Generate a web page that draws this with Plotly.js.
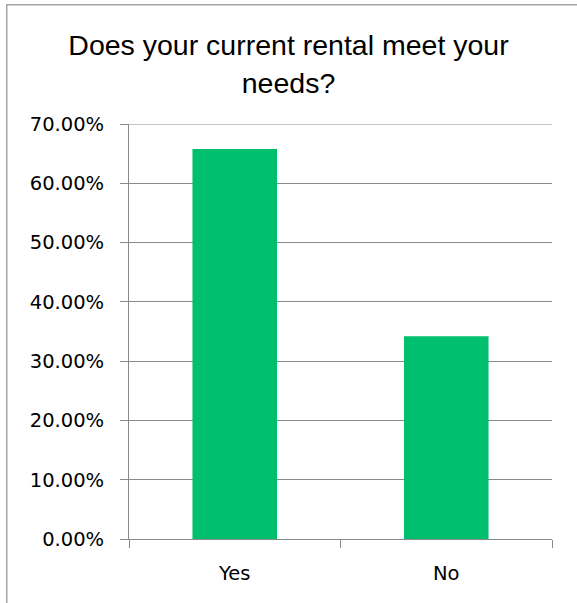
<!DOCTYPE html>
<html>
<head>
<meta charset="utf-8">
<script src="https://cdn.plot.ly/plotly-3.0.1.min.js"></script>
<style>html,body{margin:0;padding:0;background:#fff;}#chart{width:577px;height:603px;}</style>
</head>
<body>
<div id="chart"></div>
<script>
const categories = ["Yes", "No"];
const shares = [0.6579, 0.3421];
const yTickValues = [0, 0.1, 0.2, 0.3, 0.4, 0.5, 0.6, 0.7];
const chartTitle = "Does your current rental meet your<br>needs?";

const gray = "#8a8a8a";
const tickFont = {family: "DejaVu Sans", size: 19.5, color: "#000"};
const yMax = yTickValues[yTickValues.length - 1];

Plotly.newPlot("chart", [{
  type: "bar",
  x: categories,
  y: shares,
  marker: {color: "#00BF6F", line: {width: 0}},
  hoverinfo: "skip"
}], {
  width: 577, height: 603,
  margin: {l: 129, r: 25, t: 124, b: 64, pad: 0},
  paper_bgcolor: "#fff", plot_bgcolor: "#fff",
  bargap: 0.6,
  showlegend: false,
  title: {
    text: chartTitle,
    font: {family: "Liberation Sans", size: 28.5, color: "#000"},
    x: 0.5, xref: "container", xanchor: "center",
    y: 0.908, yref: "container", yanchor: "top"
  },
  xaxis: {
    type: "category",
    showgrid: false, zeroline: false,
    showline: true, linecolor: gray, linewidth: 1,
    ticks: "outside", tickson: "boundaries", ticklen: 8, tickcolor: gray, tickwidth: 1,
    ticklabelstandoff: 17,
    tickfont: tickFont
  },
  yaxis: {
    range: [0, yMax],
    tickvals: yTickValues,
    tickformat: ".2%",
    showgrid: true, gridcolor: gray, gridwidth: 1,
    zeroline: false,
    showline: true, linecolor: gray, linewidth: 1,
    ticks: "outside", ticklen: 8, tickcolor: gray, tickwidth: 1,
    ticklabelstandoff: 12,
    tickfont: tickFont
  },
  shapes: [{
    type: "rect", xref: "paper", yref: "paper",
    x0: -0.289, x1: 1.07, y0: -0.17, y1: 1.2875,
    line: {color: "#a6a6a6", width: 1.5}, fillcolor: "rgba(0,0,0,0)", layer: "below"
  }, {
    type: "line", xref: "paper", yref: "y",
    x0: 0, x1: 1, y0: yMax, y1: yMax,
    line: {color: gray, width: 1}, layer: "below"
  }]
}, {displayModeBar: false, staticPlot: true});
</script>
</body>
</html>
